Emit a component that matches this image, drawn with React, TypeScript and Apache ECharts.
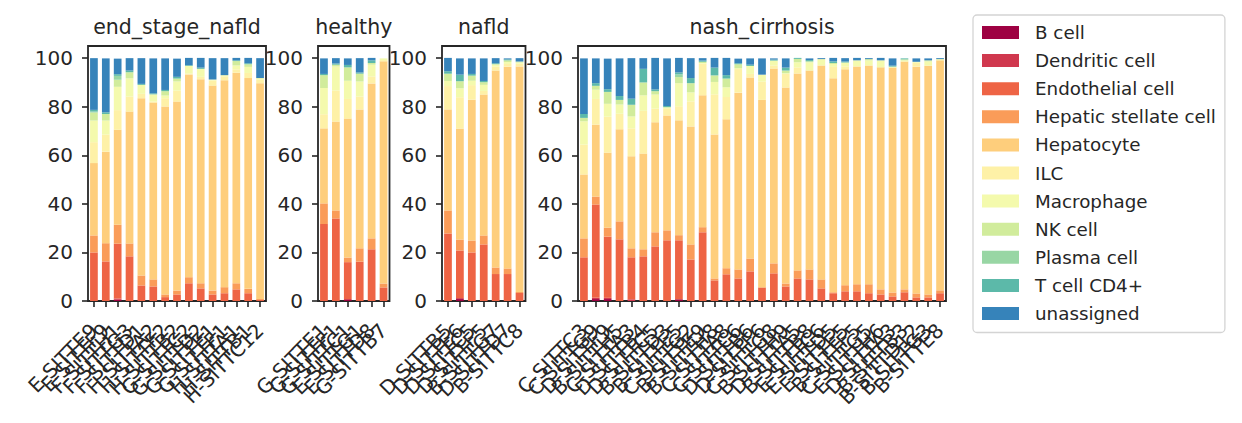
import React, { useEffect, useRef } from "react";
import * as echarts from "echarts";

const groupNames = ["end_stage_nafld", "healthy", "nafld", "nash_cirrhosis"];

const samplesEndStage = [
  "E-SITTE9", "E-SITTF9", "F-SITTH1", "F-SITTG3", "F-SITTD1", "H-SITTA2", "H-SITTF2", "H-SITTB2",
  "G-SITTC2", "G-SITTD2", "G-SITTE1", "G-SITTF1", "H-SITTA1", "H-SITTB1", "H-SITTC12",
];
const samplesHealthy = ["G-SITTE1", "G-SITTF1", "G-SITTC1", "E-SITTG1", "E-SITTD8", "G-SITTB7"];
const samplesNafld = ["D-SITTB5", "D-SITTE6", "D-SITTC5", "D-SITTF5", "B-SITTG7", "D-SITTD7", "B-SITTC8"];
const samplesNash = [
  "C-SITTC3", "C-SITTG9", "D-SITTF9", "B-SITTH5", "C-SITTA3", "D-SITTB4", "D-SITTC5", "B-SITTD3",
  "B-SITTE5", "C-SITTG2", "B-SITTE9", "B-SITTH8", "C-SITTA8", "C-SITTC6", "D-SITTB6", "D-SITTF6",
  "C-SITTG8", "B-SITTH9", "D-SITTA5", "B-SITTB8", "E-SITTC6", "E-SITTD5", "E-SITTE5", "B-SITTF5",
  "C-SITTG5", "E-SITTH6", "D-SITTA3", "B-SITTB3", "B-SITTD12", "B-SITTG3", "B-SITTE8",
];

const cellTypes = [
  "B cell", "Dendritic cell", "Endothelial cell", "Hepatic stellate cell", "Hepatocyte", "ILC",
  "Macrophage", "NK cell", "Plasma cell", "T cell CD4+", "unassigned",
];
const cellColors = [
  "#9e0142", "#d0384e", "#ee6445", "#fa9c59", "#fece7c", "#fef1a7",
  "#f4faad", "#d1ec9c", "#98d6a4", "#5cb9a9", "#3683ba",
];

// values in %, order: end_stage_nafld (15) | healthy (6) | nafld (7) | nash_cirrhosis (31)
const bCell = [
  0, 0, 0.5, 0, 0, 0, 0, 0, 0, 0, 0, 0, 0, 0, 0,
  0, 0, 0.4, 0, 0, 0,
  0, 0.8, 0, 0, 0, 0, 0,
  0, 0.8, 0.8, 0, 0, 0, 0, 0, 0.7, 0, 0, 0, 0, 0, 0, 0, 0, 0, 0, 0, 0, 0, 0, 0, 0, 0, 0, 0, 0, 0, 0,
];
const dendritic = [
  0, 0, 0.5, 0, 0, 0, 0, 0, 0, 0, 0, 0, 0, 0, 0,
  0, 0, 0.4, 0, 0, 0,
  0, 0.4, 0, 0, 0, 0, 0,
  0, 0.5, 0.5, 0, 0.7, 0, 0, 0, 0, 0, 0, 0, 0, 0, 0, 0, 0, 0, 0, 0, 0, 0, 0, 0, 0, 0, 0, 0, 0, 0, 0,
];
const endothelial = [
  20.0, 16.3, 22.6, 18.4, 6.4, 6.0, 1.6, 2.7, 7.3, 5.2, 2.7, 3.2, 4.8, 3.2, 0.4,
  31.7, 34.0, 15.2, 16.2, 21.3, 5.6,
  27.8, 19.6, 20.0, 23.3, 11.1, 11.1, 3.3,
  18.0, 38.4, 25.2, 25.4, 17.3, 18.4, 22.5, 25.0, 24.3, 17.1, 28.3, 8.5, 11.0, 9.3, 12.2, 5.6,
  11.4, 6.0, 9.3, 8.9, 5.2, 3.2, 4.0, 4.0, 3.2, 2.7, 1.9, 3.6, 1.5, 1.5, 3.2,
];
const hepaticStellate = [
  7.0, 7.5, 7.8, 5.3, 4.1, 2.9, 1.1, 1.6, 2.5, 2.1, 1.6, 2.5, 2.5, 1.8, 0.4,
  8.5, 3.3, 1.9, 5.5, 4.5, 1.6,
  9.5, 4.5, 4.9, 3.7, 2.7, 2.3, 0.4,
  7.8, 3.3, 3.7, 7.4, 3.7, 2.9, 5.8, 4.1, 2.1, 6.2, 2.1, 0.8, 2.5, 3.7, 5.3, 0,
  4.1, 1.2, 3.3, 4.1, 3.7, 0.4, 2.5, 2.9, 3.7, 2.1, 1.6, 1.2, 1.6, 1.2, 1.2,
];
const hepatocyte = [
  29.8, 37.7, 39.1, 54.3, 73.0, 72.8, 77.4, 77.8, 83.5, 84.0, 84.4, 85.2, 86.7, 86.8, 88.9,
  30.9, 36.6, 57.2, 57.2, 63.8, 91.5,
  41.6, 45.7, 58.0, 58.0, 81.1, 83.1, 92.9,
  26.3, 29.6, 30.9, 37.9, 37.9, 39.4, 45.3, 47.3, 47.3, 48.6, 54.3, 59.3, 61.3, 72.8, 74.5, 77.2,
  80.2, 80.7, 81.1, 81.9, 88.1, 88.1, 88.9, 89.7, 90.1, 91.4, 92.6, 93.8, 93.4, 94.2, 94.7,
];
const ilc = [
  8.6, 7.0, 8.1, 6.2, 1.8, 0.4, 3.4, 4.5, 0.3, 1.0, 2.1, 1.6, 1.4, 2.1, 1.4,
  5.8, 12.8, 8.1, 5.3, 2.9, 0.5,
  9.6, 12.9, 6.0, 1.5, 1.6, 1.1, 1.1,
  12.3, 10.6, 14.8, 6.4, 11.5, 17.6, 5.6, 2.7, 5.8, 10.3, 13.0, 16.5, 9.2, 9.7, 1.5, 7.5,
  1.3, 5.6, 2.5, 0, 0, 4.7, 1.2, 0, 0, 0, 0, 0, 1.6, 0, 0,
];
const macrophage = [
  8.9, 5.8, 9.6, 7.5, 3.7, 3.0, 1.1, 3.8, 3.2, 3.3, 0.4, 0.5, 1.6, 2.5, 0.7,
  10.8, 9.9, 7.5, 6.2, 4.8, 0.7,
  2.1, 3.7, 1.8, 2.5, 1.0, 0.8, 0.5,
  9.6, 3.8, 5.3, 3.8, 4.9, 6.4, 5.8, 0.7, 9.5, 3.7, 0.3, 5.1, 4.0, 0.4, 3.3, 2.9,
  2.0, 0.3, 2.1, 3.4, 2.6, 1.2, 1.6, 2.5, 2.1, 2.9, 0.4, 0.5, 0.4, 1.8, 0.5,
];
const nkCell = [
  3.3, 2.7, 2.9, 2.5, 0, 0, 1.8, 1.2, 0, 0, 0, 0, 1.8, 1.1, 0,
  5.3, 0.7, 5.5, 3.2, 0.7, 0,
  3.0, 2.9, 2.1, 1.1, 0, 0.7, 0.4,
  1.4, 1.6, 4.9, 1.9, 4.8, 5.3, 1.4, 0, 2.5, 3.8, 0.5, 2.7, 3.6, 1.6, 0, 0,
  0, 1.1, 1.4, 0.4, 0, 0.4, 0, 0, 0.5, 0, 0, 0.4, 0, 0.4, 0,
];
const plasmaCell = [
  0.4, 0, 1.6, 0, 0, 0, 0, 0, 0, 0, 0, 0, 0, 0, 0,
  0, 0, 0, 0, 0, 0,
  0, 0, 0, 0, 0, 0, 0,
  0, 0, 0, 0, 0, 0, 0, 0, 1.1, 0, 0, 0, 0, 0, 0, 0,
  0, 0, 0, 0, 0, 0, 0, 0, 0, 0, 0, 0, 0, 0, 0,
];
const tCellCD4 = [
  0.7, 0.7, 0.7, 0.7, 0.4, 0.4, 0.5, 0.7, 0.3, 0.5, 0, 0, 0.3, 0.4, 0,
  0.5, 0.5, 1.0, 0.5, 1.1, 0,
  1.0, 2.7, 0.7, 0.5, 0.4, 0.4, 0,
  1.6, 1.1, 1.1, 1.6, 2.5, 5.6, 0.7, 0.5, 0.8, 2.1, 0.5, 3.2, 1.4, 0.4, 0.5, 0,
  0.4, 1.2, 0.4, 0.5, 0, 0.7, 0.4, 0, 0, 0, 0.4, 0.4, 0, 0, 0,
];
const unassigned = [
  21.3, 22.2, 6.4, 5.1, 10.6, 14.4, 13.0, 7.5, 3.0, 4.0, 8.8, 7.0, 1.0, 2.2, 8.2,
  6.4, 2.2, 2.7, 5.9, 1.0, 0,
  5.5, 6.7, 6.4, 9.3, 2.1, 0.4, 1.4,
  22.9, 10.2, 12.6, 15.5, 16.7, 4.4, 13.0, 19.6, 6.0, 8.2, 1.0, 4.0, 7.1, 1.9, 2.6, 6.7,
  0.5, 3.8, 0, 0.7, 0.4, 1.4, 1.4, 1.0, 0.4, 1.0, 3.0, 0, 1.4, 0.8, 0.4,
];

const yTicks = [0, 20, 40, 60, 80, 100];

const FONT = '"DejaVu Sans", "Noto Sans", sans-serif';
const INK = "#262626";

export default function App() {
  const ref = useRef<HTMLDivElement>(null);

  useEffect(() => {
    if (!ref.current) return;
    const chart = echarts.init(ref.current, undefined, { renderer: "svg" });

    const groupSamples = [samplesEndStage, samplesHealthy, samplesNafld, samplesNash];
    const valueArrays = [
      bCell, dendritic, endothelial, hepaticStellate, hepatocyte, ilc,
      macrophage, nkCell, plasmaCell, tCellCD4, unassigned,
    ];
    const gridLeft = [88, 318, 442, 578];
    const gridWidth = [178, 71.5, 83.5, 368];
    const gridTop = 46;
    const gridHeight = 255;

    const offsets: number[] = [];
    let acc = 0;
    groupSamples.forEach((s) => {
      offsets.push(acc);
      acc += s.length;
    });

    const grids = groupSamples.map((_, g) => ({
      left: gridLeft[g],
      top: gridTop,
      width: gridWidth[g],
      height: gridHeight,
      show: true,
      borderColor: INK,
      borderWidth: 1.8,
      backgroundColor: "transparent",
      containLabel: false,
    }));

    const xAxes = groupSamples.map((samples, g) => ({
      type: "category",
      gridIndex: g,
      data: samples,
      axisLine: { show: false },
      axisTick: {
        show: true,
        alignWithLabel: true,
        interval: 0,
        length: 6,
        lineStyle: { color: INK, width: 1.6 },
      },
      axisLabel: {
        interval: 0,
        rotate: 45,
        margin: 26,
        fontSize: 20,
        fontFamily: FONT,
        color: INK,
      },
      splitLine: { show: false },
    }));

    const yAxes = groupSamples.map((_, g) => ({
      type: "value",
      gridIndex: g,
      min: 0,
      max: 105,
      axisLine: { show: false },
      splitLine: { show: false },
      axisTick: {
        show: true,
        length: 6,
        customValues: yTicks,
        lineStyle: { color: INK, width: 1.6 },
      },
      axisLabel: {
        customValues: yTicks,
        margin: 15,
        fontSize: 20,
        fontFamily: FONT,
        color: INK,
      },
    }));

    const series: any[] = [];
    groupSamples.forEach((samples, g) => {
      cellTypes.forEach((name, c) => {
        series.push({
          type: "bar",
          name,
          stack: "g" + g,
          xAxisIndex: g,
          yAxisIndex: g,
          barWidth: "65%",
          itemStyle: { color: cellColors[c] },
          emphasis: { disabled: true },
          data: valueArrays[c].slice(offsets[g], offsets[g] + samples.length),
        });
      });
    });

    const titles = groupNames.map((name, g) => ({
      type: "text",
      x: gridLeft[g] + gridWidth[g] / 2,
      y: 27,
      silent: true,
      style: {
        text: name,
        fill: INK,
        font: '20.5px "DejaVu Sans", sans-serif',
        align: "center",
        verticalAlign: "middle",
        textAlign: "center",
        textVerticalAlign: "middle",
      },
    }));

    chart.setOption({
      animation: false,
      color: cellColors,
      grid: grids,
      xAxis: xAxes,
      yAxis: yAxes,
      series,
      graphic: titles,
      legend: {
        show: true,
        orient: "vertical",
        left: 973,
        top: 15,
        data: cellTypes,
        icon: "rect",
        itemWidth: 37,
        itemHeight: 13,
        itemGap: 10.1,
        padding: [8.5, 9, 10, 9],
        backgroundColor: "#ffffff",
        borderColor: "#d4d4d4",
        borderWidth: 1.3,
        borderRadius: 4,
        selectedMode: false,
        textStyle: {
          fontSize: 18.3,
          fontFamily: FONT,
          color: INK,
          lineHeight: 14,
          padding: [0, 0, 0, 11],
        },
      },
    });

    return () => {
      chart.dispose();
    };
  }, []);

  return (
    <div
      ref={ref}
      style={{ position: "fixed", left: 0, top: 0, width: 1242, height: 423, background: "#ffffff" }}
    />
  );
}
